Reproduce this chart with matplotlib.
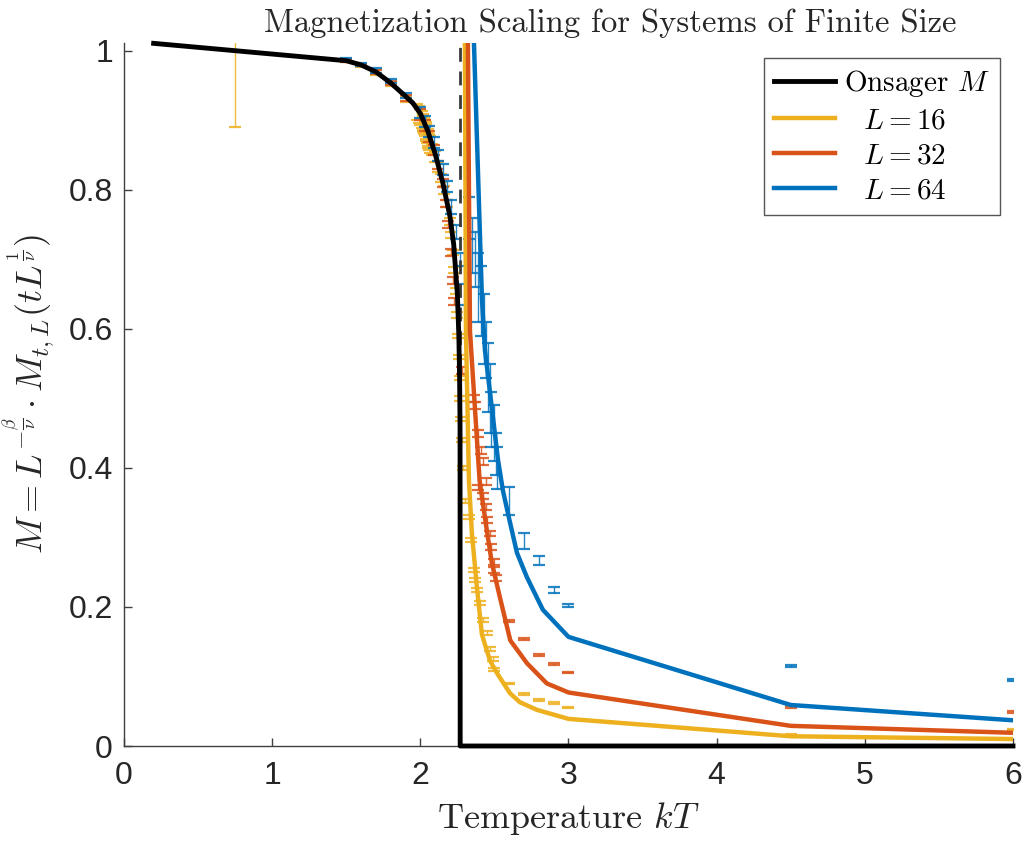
import matplotlib
matplotlib.use("Agg")
import matplotlib.pyplot as plt

plt.rcParams['mathtext.fontset'] = 'cm'
plt.rcParams['axes.unicode_minus'] = False

# ---------------- data ----------------
# Onsager exact magnetization
T_ons = [0.2, 1.5, 1.6, 1.7, 1.8, 1.9, 1.95, 2.0, 2.05, 2.1, 2.15, 2.2, 2.225, 2.25, 2.26, 2.265, 2.268, 2.269, 6.0]
M_ons = [1.011, 0.986, 0.980, 0.970, 0.954, 0.935, 0.925, 0.910, 0.885, 0.852, 0.812, 0.762, 0.722, 0.650, 0.590, 0.530, 0.460, 0.0, 0.0]
Tc = 2.269

# scaling-function curves
T_16 = [2.298, 2.301, 2.308, 2.328, 2.348, 2.382, 2.416, 2.47, 2.517, 2.605, 2.672, 2.787, 3.0, 4.5, 6.0]
M_16 = [1.10, 1.011, 0.597, 0.382, 0.306, 0.228, 0.160, 0.123, 0.105, 0.076, 0.063, 0.052, 0.039, 0.014, 0.010]
T_32 = [2.318, 2.321, 2.335, 2.40, 2.449, 2.483, 2.537, 2.607, 2.72, 2.854, 3.0, 4.5, 6.0]
M_32 = [1.10, 1.011, 0.597, 0.382, 0.310, 0.263, 0.214, 0.152, 0.119, 0.090, 0.077, 0.029, 0.019]
T_64 = [2.355, 2.362, 2.416, 2.436, 2.524, 2.557, 2.591, 2.652, 2.719, 2.827, 3.0, 4.5, 6.0]
M_64 = [1.10, 1.011, 0.642, 0.570, 0.412, 0.368, 0.335, 0.278, 0.243, 0.196, 0.157, 0.059, 0.037]

# simulation data with error bars
Te_16 = [0.75, 1.5, 1.6, 1.7, 1.8, 1.9,
         1.98, 1.99, 2.0, 2.01, 2.015, 2.02, 2.025, 2.03, 2.035, 2.04, 2.045, 2.05, 2.055, 2.06, 2.065,
         2.08, 2.10, 2.12, 2.14, 2.16, 2.18,
         2.20, 2.21, 2.22, 2.23, 2.24, 2.25, 2.255, 2.26, 2.265, 2.27, 2.275, 2.28, 2.29, 2.30,
         2.33, 2.34, 2.36, 2.37, 2.38, 2.40, 2.42, 2.45, 2.47, 2.49, 2.50, 2.6, 2.7, 2.8, 2.9, 3.0, 4.5, 6.0]
Me_16 = [0.96, 0.986, 0.979, 0.969, 0.953, 0.931,
         0.912, 0.909, 0.905, 0.901, 0.898, 0.895, 0.892, 0.889, 0.886, 0.883, 0.880, 0.876, 0.872, 0.869, 0.865,
         0.858, 0.848, 0.833, 0.817, 0.800, 0.780,
         0.755, 0.735, 0.710, 0.685, 0.655, 0.620, 0.590, 0.560, 0.530, 0.500, 0.470, 0.440, 0.400, 0.353,
         0.330, 0.296, 0.253, 0.239, 0.224, 0.206, 0.181, 0.163, 0.140, 0.125, 0.110, 0.090, 0.075, 0.066, 0.062, 0.055, 0.016, 0.024]
Ee_16 = [0.07, 0.002, 0.002, 0.003, 0.003, 0.004,
         0.012, 0.012, 0.012, 0.012, 0.012, 0.012, 0.012, 0.012, 0.012, 0.012, 0.012, 0.012, 0.012, 0.012, 0.012,
         0.008, 0.008, 0.007, 0.006, 0.006, 0.005,
         0.005, 0.004, 0.004, 0.004, 0.004, 0.004, 0.003, 0.003, 0.003, 0.003, 0.003, 0.003, 0.003, 0.003,
         0.003, 0.003, 0.003, 0.003, 0.003, 0.003, 0.003, 0.003, 0.003, 0.003, 0.002, 0.001, 0.001, 0.001, 0.001, 0.001, 0.001, 0.001]

Te_32 = [1.5, 1.6, 1.7, 1.8, 1.9, 2.0, 2.03, 2.06, 2.09, 2.12, 2.15, 2.17, 2.19, 2.21, 2.22, 2.23,
         2.28, 2.36, 2.37, 2.39, 2.41, 2.42, 2.44, 2.39, 2.42, 2.44, 2.45, 2.47, 2.48, 2.50, 2.50, 2.51,
         2.6, 2.7, 2.8, 2.9, 3.0, 4.5, 6.0]
Me_32 = [0.986, 0.980, 0.970, 0.954, 0.932, 0.908, 0.893, 0.877, 0.858, 0.836, 0.810, 0.780, 0.750, 0.710, 0.670, 0.640,
         0.540, 0.500, 0.490, 0.450, 0.425, 0.410, 0.380, 0.372, 0.360, 0.344, 0.325, 0.306, 0.286, 0.265, 0.253, 0.242,
         0.180, 0.154, 0.131, 0.118, 0.106, 0.056, 0.049]
Ee_32 = [0.002, 0.002, 0.003, 0.003, 0.004, 0.008, 0.008, 0.008, 0.007, 0.006, 0.006, 0.005, 0.005, 0.005, 0.005, 0.005,
         0.005, 0.005, 0.005, 0.005, 0.005, 0.005, 0.005, 0.004, 0.004, 0.004, 0.004, 0.004, 0.004, 0.004, 0.004, 0.004,
         0.002, 0.002, 0.001, 0.001, 0.001, 0.001, 0.001]

Te_64 = [1.5, 1.6, 1.7, 1.8, 1.9, 2.0, 2.03, 2.06, 2.09, 2.12, 2.15, 2.18, 2.21, 2.24, 2.27, 2.30,
         2.33, 2.35, 2.37, 2.39, 2.41, 2.43, 2.44, 2.46, 2.47, 2.48, 2.50, 2.51, 2.52,
         2.6, 2.7, 2.8, 2.9, 3.0, 4.5, 6.0]
Me_64 = [0.988, 0.981, 0.972, 0.957, 0.936, 0.912, 0.898, 0.884, 0.868, 0.850, 0.830, 0.805, 0.775, 0.740, 0.700, 0.650,
         0.760, 0.720, 0.700, 0.660, 0.640, 0.600, 0.570, 0.530, 0.500, 0.470, 0.450, 0.420, 0.400,
         0.353, 0.295, 0.267, 0.2245, 0.202, 0.115, 0.095]
Ee_64 = [0.002, 0.002, 0.003, 0.003, 0.004, 0.008, 0.008, 0.008, 0.008, 0.008, 0.008, 0.008, 0.010, 0.010, 0.010, 0.015,
         0.030, 0.040, 0.040, 0.050, 0.050, 0.050, 0.040, 0.050, 0.050, 0.040, 0.040, 0.030, 0.030,
         0.020, 0.011, 0.007, 0.004, 0.002, 0.001, 0.001]

c16, c32, c64 = '#EDB120', '#D95319', '#0072BD'

# ---------------- figure ----------------
fig = plt.figure(figsize=(10.29, 8.41), dpi=100)
ax = fig.add_axes([124/1029, 1 - 746/841, (1013-124)/1029, (746-43)/841])

ekw = dict(fmt='none', elinewidth=1.0, capsize=4.5, capthick=1.6, alpha=0.85)
ax.errorbar(Te_16, Me_16, yerr=Ee_16, ecolor=c16, **ekw)
ax.errorbar(Te_32, Me_32, yerr=Ee_32, ecolor=c32, **ekw)
ax.errorbar(Te_64, Me_64, yerr=Ee_64, ecolor=c64, **ekw)

ax.plot([Tc, Tc], [0, 1.0115], color='#3a3a3a', lw=2.0, dashes=(5, 3.5))

l0, = ax.plot(T_ons, M_ons, color='k', lw=3.5, clip_on=False, zorder=4)
l1, = ax.plot(T_16, M_16, color=c16, lw=3.2, zorder=5)
l2, = ax.plot(T_32, M_32, color=c32, lw=3.2, zorder=5)
l3, = ax.plot(T_64, M_64, color=c64, lw=3.2, zorder=5)

ax.set_xlim(0, 6)
ax.set_ylim(0, 1.0115)
ax.set_xticks([0, 1, 2, 3, 4, 5, 6])
ax.set_yticks([0, 0.2, 0.4, 0.6, 0.8, 1.0])
ax.set_yticklabels(['0', '0.2', '0.4', '0.6', '0.8', '1'])

for s in ['top', 'right']:
    ax.spines[s].set_visible(False)
for s in ['left', 'bottom']:
    ax.spines[s].set_color('#404040')
    ax.spines[s].set_linewidth(1.0)
ax.tick_params(direction='in', length=6, width=1.0, color='#404040', labelcolor='#262626',
               labelsize=23)
ax.tick_params(axis='x', pad=11)
ax.tick_params(axis='y', pad=8)
for lab in ax.get_xticklabels() + ax.get_yticklabels():
    lab.set_fontfamily('Liberation Sans')

ax.set_title('Magnetization Scaling for Systems of Finite Size', fontfamily='cmr10',
             fontsize=23.5, pad=8, color='#262626', x=0.547)
ax.set_xlabel(r'Temperature $kT$', fontfamily='cmr10', fontsize=26, labelpad=6, color='#262626')
ax.set_ylabel(r'$M = L^{-\frac{\beta}{\nu}} \cdot M_{t,L}(tL^{\frac{1}{\nu}})$', fontsize=26,
              labelpad=8, color='#262626')

leg = ax.legend([l0, l1, l2, l3],
                [r'Onsager $M$', r'  $L=16$', r'  $L=32$', r'  $L=64$'],
                loc='upper right', bbox_to_anchor=(0.9854, 0.9787), borderaxespad=0,
                prop={'family': 'cmr10', 'size': 21}, handlelength=2.1, handletextpad=0.3,
                labelspacing=0.3, borderpad=0.35, fancybox=False, framealpha=1,
                edgecolor='#555555')
leg.get_frame().set_linewidth(1.0)

fig.savefig('out.png', dpi=100)
